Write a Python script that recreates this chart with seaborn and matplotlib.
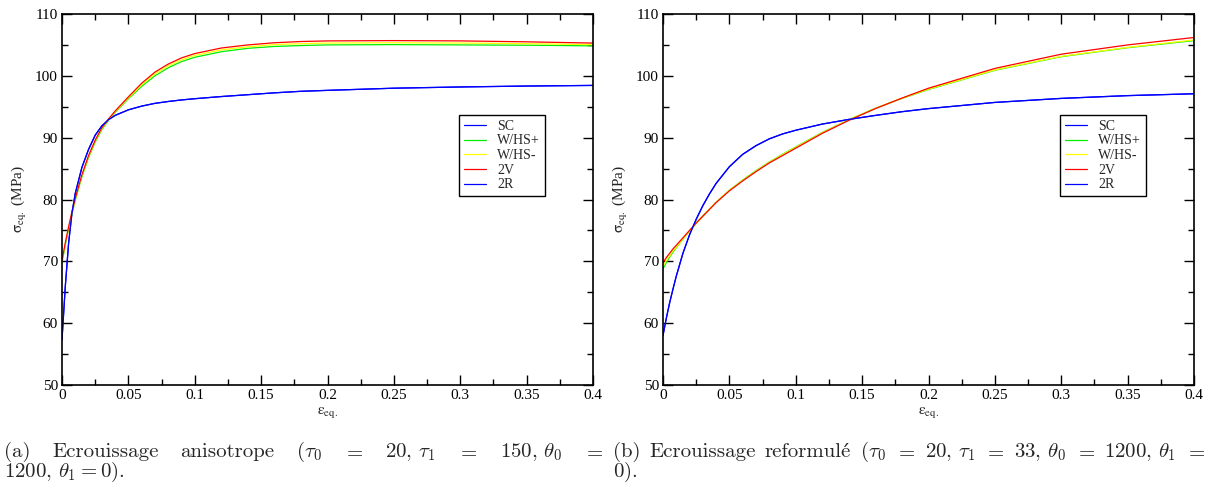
import matplotlib
matplotlib.use("Agg")
import matplotlib.pyplot as plt
import pandas as pd
import seaborn as sns

# strain grid shared by every curve
eps = [0, 0.0025, 0.005, 0.0075, 0.01, 0.015, 0.02, 0.025, 0.03, 0.035, 0.04,
       0.05, 0.06, 0.07, 0.08, 0.09, 0.1, 0.12, 0.14, 0.16, 0.18, 0.2,
       0.25, 0.3, 0.35, 0.4]

# (a) anisotropic hardening
sc_a = [57.3, 66.0, 73.0, 77.8, 81.0, 85.2, 88.1, 90.4, 91.9, 92.9, 93.6,
        94.5, 95.1, 95.55, 95.85, 96.1, 96.3, 96.65, 96.95, 97.25, 97.5, 97.65,
        98.0, 98.2, 98.35, 98.45]
whs_p_a = [69.8, 72.7, 75.3, 77.7, 79.9, 83.7, 86.8, 89.3, 91.3, 92.8, 94.1,
           96.3, 98.3, 100.0, 101.3, 102.3, 103.0, 103.9, 104.45, 104.75, 104.9, 105.0,
           105.05, 105.0, 104.95, 104.85]
whs_m_a = [70.0, 72.85, 75.45, 77.85, 80.05, 83.85, 86.95, 89.45, 91.45, 92.9, 94.2,
           96.45, 98.55, 100.3, 101.6, 102.6, 103.3, 104.2, 104.7, 105.05, 105.2, 105.3,
           105.35, 105.3, 105.2, 105.05]
v2_a = [70.2, 73.0, 75.6, 78.0, 80.2, 84.0, 87.1, 89.6, 91.6, 93.0, 94.3,
        96.6, 98.8, 100.6, 101.9, 102.9, 103.6, 104.5, 105.0, 105.35, 105.55, 105.65,
        105.7, 105.65, 105.5, 105.3]
r2_a = [57.3, 66.0, 73.0, 77.8, 81.0, 85.2, 88.1, 90.4, 91.9, 92.9, 93.6,
        94.5, 95.1, 95.55, 95.85, 96.1, 96.3, 96.65, 96.95, 97.25, 97.5, 97.65,
        98.0, 98.2, 98.35, 98.45]

# (b) reformulated hardening
sc_b = [58.0, 60.8, 63.3, 65.5, 67.6, 71.3, 74.3, 76.8, 79.0, 80.9, 82.6,
        85.3, 87.3, 88.7, 89.8, 90.6, 91.2, 92.2, 92.95, 93.6, 94.2, 94.7,
        95.7, 96.35, 96.8, 97.1]
whs_p_b = [68.8, 69.8, 70.7, 71.5, 72.2, 73.6, 74.9, 76.15, 77.3, 78.45, 79.55,
           81.5, 83.15, 84.65, 86.05, 87.3, 88.5, 90.85, 92.9, 94.75, 96.35, 97.8,
           100.9, 103.1, 104.55, 105.7]
whs_m_b = [69.2, 70.1, 70.9, 71.7, 72.3, 73.65, 74.9, 76.15, 77.3, 78.45, 79.55,
           81.5, 83.1, 84.6, 86.0, 87.25, 88.45, 90.8, 92.88, 94.75, 96.38, 97.85,
           100.95, 103.15, 104.6, 105.8]
v2_b = [69.8, 70.6, 71.3, 72.0, 72.6, 73.8, 75.0, 76.2, 77.3, 78.4, 79.5,
        81.4, 83.0, 84.5, 85.9, 87.1, 88.3, 90.7, 92.8, 94.7, 96.4, 98.0,
        101.2, 103.5, 105.0, 106.2]
r2_b = [58.0, 60.8, 63.3, 65.5, 67.6, 71.3, 74.3, 76.8, 79.0, 80.9, 82.6,
        85.3, 87.3, 88.7, 89.8, 90.6, 91.2, 92.2, 92.95, 93.6, 94.2, 94.7,
        95.7, 96.35, 96.8, 97.1]

labels = ['SC', 'W/HS+', 'W/HS-', '2V', '2R']
colors = ['#0000ff', '#00ee00', '#ffff00', '#ff0000', '#0000ff']

sns.set_theme(style='ticks')
plt.rcParams['font.family'] = ['Liberation Serif', 'DejaVu Serif']
plt.rcParams['xtick.direction'] = 'in'
plt.rcParams['ytick.direction'] = 'in'

W, H = 1212, 486
fig = plt.figure(figsize=(W / 100, H / 100), dpi=100)
ax1 = fig.add_axes([62 / W, 1 - 385 / H, 531 / W, 371 / H])
ax2 = fig.add_axes([663 / W, 1 - 385 / H, 531 / W, 371 / H])


def draw(ax, series):
    for lab, col, vals in zip(labels, colors, series):
        d = pd.DataFrame({'eps': eps, 'sig': vals})
        sns.lineplot(data=d, x='eps', y='sig', color=col, label=lab, lw=0.9, ax=ax)
    ax.set_xlim(0, 0.4)
    ax.set_ylim(50, 110)
    ax.set_xticks([0, 0.05, 0.1, 0.15, 0.2, 0.25, 0.3, 0.35, 0.4])
    ax.set_xticklabels(['0', '0.05', '0.1', '0.15', '0.2', '0.25', '0.3', '0.35', '0.4'])
    ax.set_xticks([0.025, 0.075, 0.125, 0.175, 0.225, 0.275, 0.325, 0.375], minor=True)
    ax.set_yticks([50, 60, 70, 80, 90, 100, 110])
    ax.set_yticks([55, 65, 75, 85, 95, 105], minor=True)
    ax.tick_params(which='both', direction='in', top=True, right=True,
                   labelsize=11, width=1.0, color='black', labelcolor='black', pad=3)
    ax.tick_params(which='major', length=7.5)
    ax.tick_params(which='minor', length=4)
    for s in ax.spines.values():
        s.set_linewidth(1.2)
        s.set_color('black')
    ax.set_xlabel(r'$\mathrm{\varepsilon_{eq.}}$', fontsize=11, math_fontfamily='stix', labelpad=2)
    ax.set_ylabel(r'$\mathrm{\sigma_{eq.}}$ (MPa)', fontsize=11, math_fontfamily='stix', labelpad=4)
    leg = ax.legend(loc='upper left', bbox_to_anchor=(0.748, 0.728), borderaxespad=0,
                    fontsize=10, frameon=True, fancybox=False, framealpha=1,
                    edgecolor='black', handlelength=1.6, handletextpad=0.8,
                    labelspacing=0.12, borderpad=0.35)
    leg.get_frame().set_linewidth(1.0)


draw(ax1, [sc_a, whs_p_a, whs_m_a, v2_a, r2_a])
draw(ax2, [sc_b, whs_p_b, whs_m_b, v2_b, r2_b])

# captions: first lines are justified like the LaTeX source
cap = dict(fontsize=15, family=['cmr10', 'DejaVu Serif'], math_fontfamily='cm',
           va='baseline', ha='left')
y1 = 1 - 457 / H
y2 = 1 - 477 / H


def width_of(s):
    t = fig.text(0, 0, s, **cap)
    w = t.get_window_extent(fig.canvas.get_renderer()).width
    t.remove()
    return w


def justify(words, x0, x1, y):
    texts = [fig.text(0, y, w, **cap) for w in words]
    fig.canvas.draw()
    r = fig.canvas.get_renderer()
    widths = [t.get_window_extent(r).width for t in texts]
    gap = (x1 - x0 - sum(widths)) / (len(words) - 1)
    x = x0
    xs = []
    for t, w in zip(texts, widths):
        t.set_x(x / W)
        xs.append(x)
        x += w + gap
    return xs


justify(['(a)', 'Ecrouissage', 'anisotrope', r'$(\tau_0$', r'$=$', r'$20,\,\tau_1$',
         r'$=$', r'$150,\,\theta_0$', r'$=$'], 4, 604, y1)
fig.text(4 / W, y2, r'$1200,\,\theta_1=0).$', **cap)
xs_b = justify(['(b)', 'Ecrouissage', 'reformule', r'$(\tau_0$', r'$=$',
                r'$20,\,\tau_1$', r'$=$', r'$33,\,\theta_0$', r'$=$', r'$1200,\,\theta_1$', r'$=$'],
               613, 1206, y1)
# cmr10 has no é glyph: put an acute accent over the final e of "reformule"
w_stem = width_of('reformul')
w_full = width_of('reformule')
fig.text((xs_b[2] + (w_stem + w_full) / 2 - 1) / W, y1 - 3 / H, '\u00b4', fontsize=15,
         family='DejaVu Serif', ha='center', va='baseline')
fig.text(613 / W, y2, r'$0).$', **cap)

fig.savefig('out.png', dpi=100)
